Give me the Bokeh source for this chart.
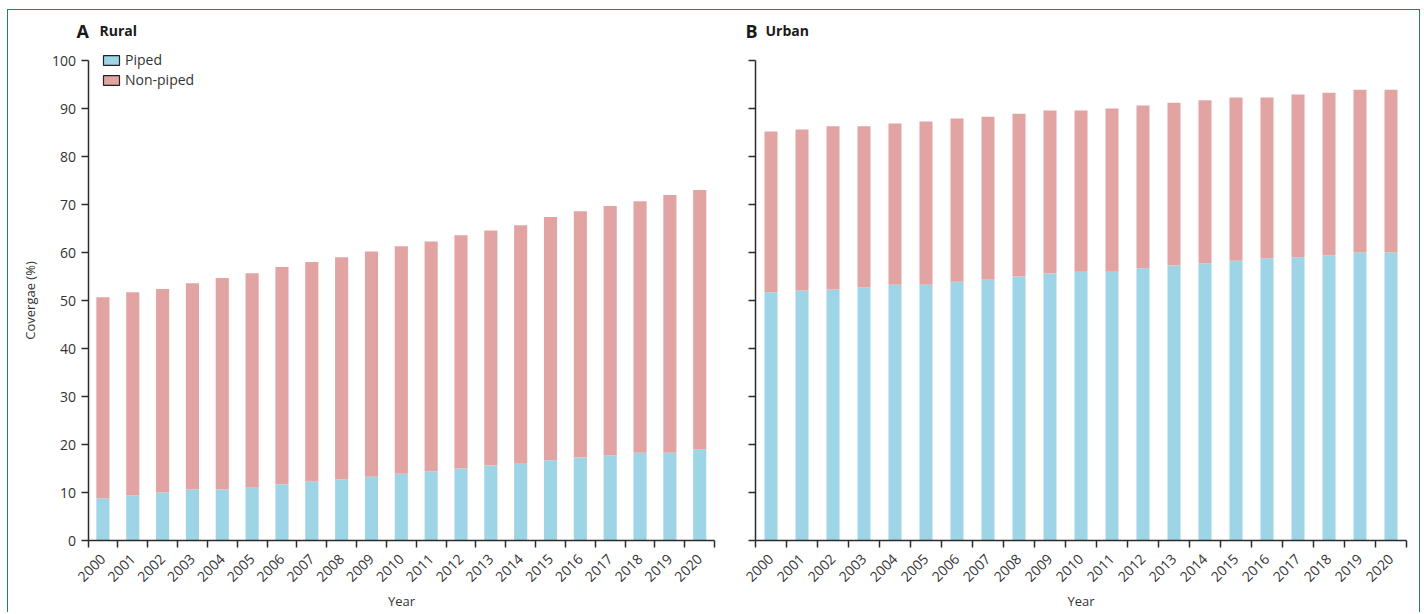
import math
from bokeh.plotting import figure
from bokeh.models import ColumnDataSource, Range1d, FixedTicker, Legend, LegendItem, Label
from bokeh.layouts import row
from bokeh.embed import file_html
from bokeh.resources import INLINE

# ---- data ----
years = list(range(2000, 2021))
year_labels = [str(y) for y in years]

rural_piped = [8.8, 9.4, 10.0, 10.6, 10.6, 11.0, 11.7, 12.3, 12.7, 13.3, 13.9,
               14.4, 15.0, 15.6, 16.0, 16.7, 17.3, 17.7, 18.3, 18.3, 19.0]
rural_nonpiped = [41.9, 42.3, 42.4, 43.0, 44.1, 44.7, 45.3, 45.7, 46.3, 46.9, 47.4,
                  47.9, 48.6, 49.0, 49.7, 50.7, 51.3, 52.0, 52.4, 53.7, 54.0]

urban_piped = [51.7, 52.1, 52.3, 52.7, 53.3, 53.3, 53.9, 54.3, 55.0, 55.6, 56.0,
               56.0, 56.7, 57.3, 57.7, 58.3, 58.8, 59.0, 59.4, 60.0, 60.0]
urban_nonpiped = [33.5, 33.5, 34.0, 33.6, 33.6, 34.0, 34.0, 34.0, 33.9, 34.0, 33.6,
                  34.0, 33.9, 33.9, 34.0, 34.0, 33.5, 33.9, 33.9, 33.9, 33.9]

series_names = ["Piped", "Non-piped"]
y_ticks = list(range(0, 101, 10))

# ---- styles ----
FONT = "Open Sans"
TXT = "#333333"
AX = "#2b2b2b"
COLORS = ["#9DD5E7", "#E2A4A3"]

FIG_H = 602            # figure height (px)
Y0_PX = 530            # y = 0 position, px from figure top
PX_PER_UNIT = 4.8      # 100 % = 480 px


def panel(letter, word, piped, nonpiped, fig_w, axis_px, cat_px, show_y, bar_w,
          legend, letter_x, word_x):
    # the whole figure is the frame; axes are pinned at fixed locations
    x0 = years[0] - 0.5
    x1 = years[-1] + 0.5
    xr = Range1d(x0 - axis_px / cat_px, x0 + (fig_w - axis_px) / cat_px)
    yr = Range1d(-(FIG_H - Y0_PX) / PX_PER_UNIT, Y0_PX / PX_PER_UNIT)
    src = ColumnDataSource(dict(year=years, piped=piped, nonpiped=nonpiped))
    p = figure(frame_width=fig_w, frame_height=FIG_H, x_range=xr, y_range=yr,
               output_backend="svg", toolbar_location=None, min_border=0)
    p.outline_line_color = None
    p.xgrid.visible = False
    p.ygrid.visible = False
    p.vbar_stack(["piped", "nonpiped"], x="year", width=bar_w, source=src,
                 color=COLORS, line_color=None)

    # x axis: labels at bar centres, ticks between categories
    xa = p.xaxis[0]
    xa.fixed_location = 0
    xa.bounds = (x0, x1)
    xa.ticker = FixedTicker(ticks=years, minor_ticks=[y - 0.5 for y in years] + [x1])
    xa.major_label_overrides = {y: s for y, s in zip(years, year_labels)}
    xa.major_label_orientation = math.pi / 4
    xa.major_tick_out = 0
    xa.major_tick_in = 0
    xa.minor_tick_out = 7
    xa.minor_tick_in = 0
    xa.minor_tick_line_color = AX
    xa.minor_tick_line_width = 1.5
    xa.major_label_standoff = 9
    xa.major_label_text_font = FONT
    xa.major_label_text_font_size = "14px"
    xa.major_label_text_color = TXT
    xa.axis_label = "Year"
    xa.axis_label_text_font = FONT
    xa.axis_label_text_font_size = "13px"
    xa.axis_label_text_font_style = "normal"
    xa.axis_label_text_color = TXT
    xa.axis_label_standoff = 3
    xa.axis_line_color = AX
    xa.axis_line_width = 1.5

    ya = p.yaxis[0]
    ya.fixed_location = x0
    ya.bounds = (0, 100)
    ya.ticker = FixedTicker(ticks=y_ticks, minor_ticks=[])
    ya.major_tick_out = 7
    ya.major_tick_in = 0
    ya.major_tick_line_color = AX
    ya.major_tick_line_width = 1.5
    ya.axis_line_color = AX
    ya.axis_line_width = 1.5
    ya.major_label_text_font = FONT
    ya.major_label_text_font_size = "14px"
    ya.major_label_standoff = 5
    if show_y:
        ya.major_label_text_color = TXT
        ya.axis_label = "Covergae (%)"
        ya.axis_label_text_font = FONT
        ya.axis_label_text_font_size = "13px"
        ya.axis_label_text_font_style = "normal"
        ya.axis_label_text_color = TXT
        ya.axis_label_standoff = 10
    else:
        ya.major_label_text_color = None

    base = FIG_H - 27 + 7  # title baseline (screen px above figure bottom)
    p.add_layout(Label(x=letter_x, y=base, x_units="screen", y_units="screen", text=letter,
                       text_font=FONT, text_font_size="18px", text_font_style="bold",
                       text_color="#1a1a1a", text_baseline="alphabetic"))
    p.add_layout(Label(x=word_x, y=base, x_units="screen", y_units="screen", text=word,
                       text_font=FONT, text_font_size="14px", text_font_style="bold",
                       text_color="#1a1a1a", text_baseline="alphabetic"))

    if legend:
        nan = float("nan")
        proxy = ColumnDataSource(dict(x=[nan], top=[nan]))
        d1 = p.vbar(x="x", top="top", width=0.5, source=proxy, fill_color=COLORS[0],
                    line_color="#222222", line_width=1.2)
        d2 = p.vbar(x="x", top="top", width=0.5, source=proxy, fill_color=COLORS[1],
                    line_color="#222222", line_width=1.2)
        leg = Legend(items=[LegendItem(label=series_names[0], renderers=[d1]),
                            LegendItem(label=series_names[1], renderers=[d2])],
                     location=(93, FIG_H - 79), padding=0, margin=0, spacing=1,
                     glyph_width=20, glyph_height=12, label_height=12, label_standoff=4,
                     label_text_font=FONT, label_text_font_size="14px",
                     label_text_color=TXT, border_line_color=None,
                     background_fill_alpha=0)
        p.add_layout(leg)
    return p


p1 = panel("A", "Rural", rural_piped, rural_nonpiped, 722, 79.5, 29.84, True, 0.44,
           True, 68, 91)
p2 = panel("B", "Urban", urban_piped, urban_nonpiped, 689, 25, 31.0, False, 0.42,
           False, 15, 35)

layout = row(p1, p2, margin=(9, 0, 0, 7),
             styles={"border-top": "1px solid #2e7d57",
                     "border-left": "1px solid #2e7d57",
                     "border-right": "1px solid #2e7d57"})

open("out.html", "w").write(file_html(layout, INLINE))
